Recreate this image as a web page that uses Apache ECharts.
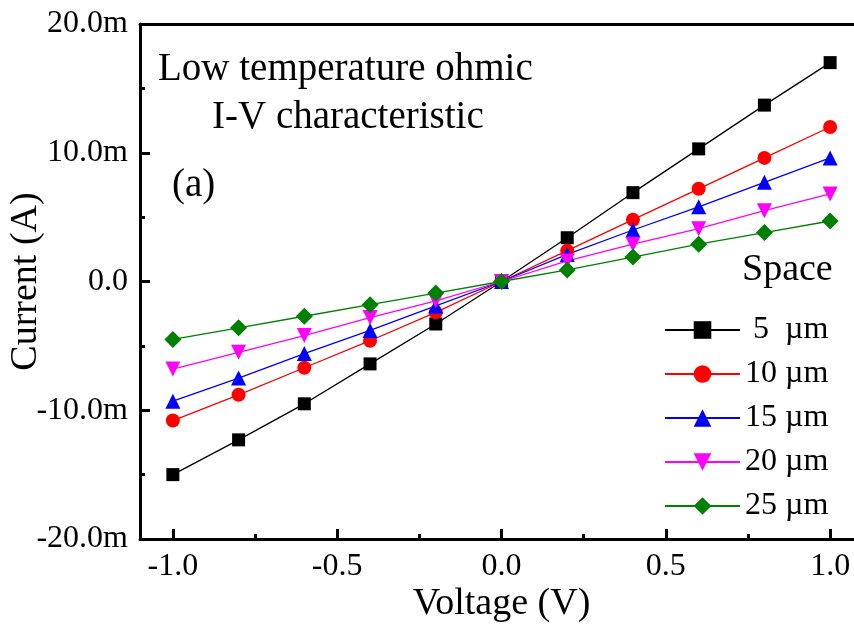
<!DOCTYPE html>
<html>
<head>
<meta charset="utf-8">
<script src="https://cdn.jsdelivr.net/npm/echarts@6/dist/echarts.min.js"></script>
<style>
  html, body { margin: 0; padding: 0; background: #fff; overflow: hidden; }
  #chart { width: 854px; height: 626px; }
</style>
</head>
<body>
<div id="chart"></div>
<script>
// voltage (V)
var voltage = [-1.0, -0.8, -0.6, -0.4, -0.2, 0.0, 0.2, 0.4, 0.6, 0.8, 1.0];
// current (A) for each spacing
var i5  = [-0.0150, -0.0123, -0.0095, -0.0064, -0.0033, 0, 0.0034, 0.0069, 0.0103, 0.0137, 0.0170];
var i10 = [-0.0108, -0.0088, -0.0067, -0.0046, -0.0024, 0, 0.0024, 0.0048, 0.0072, 0.0096, 0.0120];
var i15 = [-0.0093, -0.0075, -0.0056, -0.0038, -0.0019, 0, 0.0021, 0.0040, 0.0058, 0.0077, 0.0096];
var i20 = [-0.0068, -0.0055, -0.0042, -0.0028, -0.0015, 0, 0.0016, 0.0029, 0.0041, 0.0055, 0.0068];
var i25 = [-0.0045, -0.0036, -0.0027, -0.0018, -0.0009, 0, 0.0009, 0.0019, 0.0029, 0.0038, 0.0047];

var names = [' 5  \u00b5m', '10 \u00b5m', '15 \u00b5m', '20 \u00b5m', '25 \u00b5m'];
var xMajor = [-1.0, -0.5, 0.0, 0.5, 1.0];
var xMinor = [-0.75, -0.25, 0.25, 0.75];
var xMin = -1.1, xMax = 1.1;   // right end of the frame falls just outside the picture

var FONT = '"Liberation Serif", "Times New Roman", serif';

function pairs(ys) {
    var out = [];
    for (var i = 0; i < voltage.length; i++) out.push([voltage[i], ys[i]]);
    return out;
}

function mkSeries(name, ys, color, symbol, size, rotate) {
    return {
        name: name,
        type: 'line',
        data: pairs(ys),
        symbol: symbol,
        symbolSize: size,
        symbolRotate: rotate || 0,
        showAllSymbol: true,
        lineStyle: { color: color, width: 1.3 },
        itemStyle: { color: color, opacity: 1 },
        emphasis: { disabled: true },
        animation: false
    };
}

var chart = echarts.init(document.getElementById('chart'));
var option = {
    backgroundColor: '#fff',
    animation: false,
    textStyle: { fontFamily: FONT, color: '#000' },
    grid: {
        left: 140, right: -9, top: 24, bottom: 87,
        outerBoundsMode: 'none',
        containLabel: false,
        show: false
    },
    legend: {
        orient: 'vertical',
        left: 659, top: 309,
        itemWidth: 75, itemHeight: 22, itemGap: 12,
        textStyle: { fontFamily: FONT, fontSize: 32, color: '#000', lineHeight: 32, padding: [0, 0, 0, 0] },
        data: names
    },
    xAxis: [{
        type: 'value',
        min: xMin, max: xMax,
        position: 'bottom',
        name: 'Voltage (V)',
        nameLocation: 'middle',
        nameGap: 46,
        nameMoveOverlap: false,
        nameTextStyle: { fontFamily: FONT, fontSize: 38, color: '#000' },
        axisLine: { onZero: false, lineStyle: { color: '#000', width: 3 } },
        axisTick: { inside: true, length: 10, lineStyle: { width: 3, color: '#000' }, customValues: xMajor },
        axisLabel: {
            customValues: xMajor, margin: 12,
            fontFamily: FONT, fontSize: 32, color: '#000',
            formatter: function (v) { return v.toFixed(1); }
        },
        splitLine: { show: false }
    }, {
        // minor ticks only
        type: 'value',
        min: xMin, max: xMax,
        position: 'bottom',
        axisLine: { show: false, onZero: false },
        axisTick: { inside: true, length: 5, lineStyle: { width: 3, color: '#000' }, customValues: xMinor },
        axisLabel: { show: false },
        splitLine: { show: false }
    }, {
        // top frame line
        type: 'value',
        min: xMin, max: xMax,
        position: 'top',
        axisLine: { show: true, onZero: false, lineStyle: { color: '#000', width: 3 } },
        axisTick: { show: false },
        axisLabel: { show: false },
        splitLine: { show: false }
    }],
    yAxis: {
        type: 'value',
        min: -0.02, max: 0.02, interval: 0.01,
        name: 'Current (A)',
        nameLocation: 'middle',
        nameGap: 95,
        nameMoveOverlap: false,
        nameTextStyle: { fontFamily: FONT, fontSize: 38, color: '#000' },
        axisLine: { show: true, onZero: false, lineStyle: { color: '#000', width: 3 } },
        axisTick: { show: true, inside: true, length: 10, lineStyle: { width: 3, color: '#000' } },
        minorTick: { show: true, splitNumber: 2, length: 5, lineStyle: { width: 3, color: '#000' } },
        axisLabel: {
            margin: 12, fontFamily: FONT, fontSize: 32, color: '#000',
            formatter: function (v) {
                if (Math.abs(v) < 1e-9) return '0.0';
                return (v * 1000).toFixed(1) + 'm';
            }
        },
        splitLine: { show: false }
    },
    graphic: [
        { type: 'text', left: 158, top: 50, style: { text: 'Low temperature ohmic', font: '39px ' + FONT, fill: '#000' } },
        { type: 'text', left: 212, top: 98, style: { text: 'I-V characteristic', font: '39px ' + FONT, fill: '#000' } },
        { type: 'text', left: 172, top: 166, style: { text: '(a)', font: '39px ' + FONT, fill: '#000' } },
        { type: 'text', left: 742, top: 251, style: { text: 'Space', font: '38px ' + FONT, fill: '#000' } }
    ],
    series: [
        mkSeries(names[0], i5, '#000000', 'rect', 13),
        mkSeries(names[1], i10, '#ff0000', 'circle', 14),
        mkSeries(names[2], i15, '#0000ff', 'triangle', 15),
        mkSeries(names[3], i20, '#ff00ff', 'triangle', 15, 180),
        mkSeries(names[4], i25, '#008000', 'diamond', 17)
    ]
};
chart.setOption(option);
</script>
</body>
</html>
